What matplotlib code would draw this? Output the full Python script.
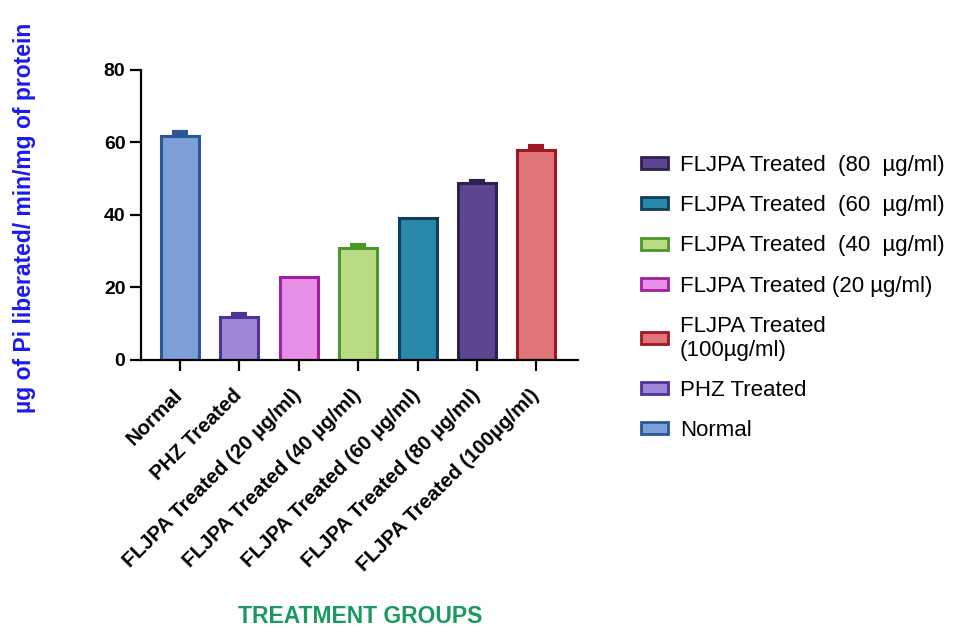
import matplotlib
matplotlib.use("Agg")
import matplotlib.pyplot as plt
from matplotlib.patches import Patch

plt.rcParams['font.family'] = ['Liberation Sans', 'DejaVu Sans']

# data
groups = ["Normal", "PHZ Treated", "FLJPA Treated (20 µg/ml)", "FLJPA Treated (40 µg/ml)",
          "FLJPA Treated (60 µg/ml)", "FLJPA Treated (80 µg/ml)", "FLJPA Treated (100µg/ml)"]
means = [61.8, 11.7, 22.8, 30.8, 39.2, 48.7, 57.8]
errors = [1.0, 1.1, 0.0, 0.9, 0.0, 0.7, 1.2]
fills = ["#7b9fd6", "#a086d6", "#e890e8", "#b9dc82", "#2a88aa", "#5e4592", "#e07478"]
edges = ["#2b5797", "#4e3296", "#a0209e", "#4c962a", "#0f3f5a", "#30204f", "#a01822"]

legend_order = [5, 4, 3, 2, 6, 1, 0]
legend_labels = ["FLJPA Treated  (80  µg/ml)", "FLJPA Treated  (60  µg/ml)",
                 "FLJPA Treated  (40  µg/ml)", "FLJPA Treated (20 µg/ml)",
                 "FLJPA Treated\n(100µg/ml)", "PHZ Treated", "Normal"]

fig = plt.figure(figsize=(9.69, 6.29), dpi=100)
ax = fig.add_axes([0.1452, 0.4277, 0.4513, 0.4618])

x = list(range(len(groups)))
ax.bar(x, means, width=0.64, color=fills, edgecolor=edges, linewidth=2.2, zorder=2)
for i in x:
    if errors[i] > 0:
        ax.errorbar(i, means[i], yerr=[[0], [errors[i]]], fmt='none', ecolor=edges[i],
                    elinewidth=2, capsize=5.5, capthick=3, zorder=1)

ax.set_xlim(-0.66, 6.7)
ax.set_ylim(0, 80)
ax.set_yticks([0, 20, 40, 60, 80])
ax.set_xticks(x)
ax.set_xticklabels(groups, rotation=45, ha='right', va='center', rotation_mode='anchor',
                   fontsize=14.8, fontweight='bold')
for lbl in ax.get_yticklabels():
    lbl.set_fontweight('bold')
    lbl.set_fontsize(14)
ax.tick_params(axis='both', direction='out', length=8, width=1.6, color='black', pad=3)
ax.tick_params(axis='x', pad=15)
ax.spines['top'].set_visible(False)
ax.spines['right'].set_visible(False)
ax.spines['left'].set_linewidth(1.6)
ax.spines['bottom'].set_linewidth(1.6)

handles = [Patch(facecolor=fills[i], edgecolor=edges[i], linewidth=2) for i in legend_order]
fig.legend(handles, legend_labels, loc='upper left', bbox_to_anchor=(0.641, 0.785),
           frameon=False, fontsize=16, handlelength=1.2, handleheight=0.45,
           handletextpad=0.55, labelspacing=0.86)

fig.text(25 / 969, 1 - 218 / 629, "µg of Pi liberated/ min/mg of protein", rotation=90,
         ha='center', va='center', color='#1a1af0', fontsize=16.5, fontweight='bold')
fig.text(360 / 969, 1 - 623 / 629, "TREATMENT GROUPS", ha='center', va='baseline',
         color='#1a9a5e', fontsize=16.5, fontweight='bold')

fig.savefig("out.png", dpi=100)
